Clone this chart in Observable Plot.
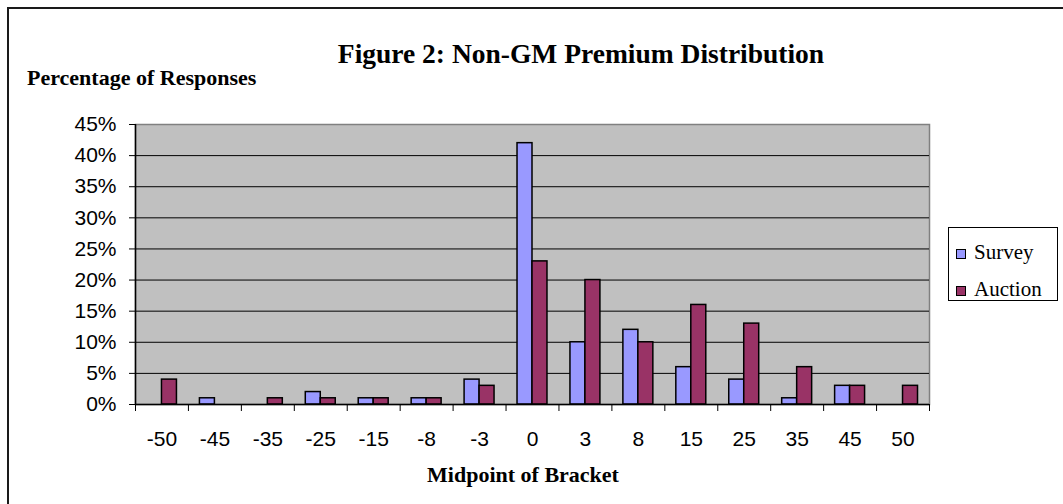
<!DOCTYPE html>
<html>
<head>
<meta charset="utf-8">
<script src="https://cdn.jsdelivr.net/npm/d3@7"></script>
<script src="https://cdn.jsdelivr.net/npm/@observablehq/plot@0.6"></script>
<style>
  html, body { margin: 0; padding: 0; background: #fff; overflow: hidden; }
  #wrap { position: relative; width: 1063px; height: 504px; overflow: hidden; }
  #border { position: absolute; left: 7px; top: 7px; width: 1100px; height: 600px; border: 2px solid #1a1a1a; box-sizing: border-box; }
  .serif { font-family: "Liberation Serif", "Times New Roman", serif; font-weight: bold; color: #000; position: absolute; white-space: nowrap; }
  #title { font-size: 27.5px; left: 0; width: 1162px; text-align: center; top: 38px; }
  #ylab { font-size: 22px; left: 27px; top: 65px; }
  #xlab { font-size: 22px; left: 0; width: 1046px; text-align: center; top: 462px; }
  #chart { position: absolute; left: 0; top: 0; }
  #legend { position: absolute; left: 948px; top: 227px; width: 110px; height: 74px; border: 1px solid #000; box-sizing: border-box; background: #fff;
            font-family: "Liberation Serif", "Times New Roman", serif; font-size: 21px; color: #000; }
  .item { position: absolute; left: 7px; height: 24px; line-height: 24px; }
  .sw { display: inline-block; width: 10px; height: 10px; border: 1px solid #000; box-sizing: border-box; margin-right: 8px; vertical-align: 0px; }
</style>
</head>
<body>
<div id="wrap">
  <div id="border"></div>
  <div id="chart"></div>
  <div id="title" class="serif">Figure 2: Non-GM Premium Distribution</div>
  <div id="ylab" class="serif">Percentage of Responses</div>
  <div id="xlab" class="serif">Midpoint of Bracket</div>
  <div id="legend"></div>
</div>
<script>
// Data (percent of responses)
const brackets = ["-50", "-45", "-35", "-25", "-15", "-8", "-3", "0", "3", "8", "15", "25", "35", "45", "50"];
const survey   = [0, 1, 0, 2, 1, 1, 4, 42, 10, 12, 6, 4, 1, 3, 0];
const auction  = [4, 0, 1, 1, 1, 1, 3, 23, 20, 10, 16, 13, 6, 3, 3];
const seriesNames = ["Survey", "Auction"];
const seriesColors = ["#9999FF", "#993366"];
const yTicks = [0, 5, 10, 15, 20, 25, 30, 35, 40, 45];

const barW = 0.283; // fraction of a bracket slot occupied by one bar
const rows = [];
brackets.forEach((b, i) => {
  if (survey[i] > 0) rows.push({i, series: "Survey", v: survey[i] / 100, x1: i + 0.5 - barW, x2: i + 0.5});
  if (auction[i] > 0) rows.push({i, series: "Auction", v: auction[i] / 100, x1: i + 0.5, x2: i + 0.5 + barW});
});

const chart = Plot.plot({
  width: 1063,
  height: 504,
  marginLeft: 135,
  marginRight: 134,
  marginTop: 124,
  marginBottom: 100,
  style: {fontFamily: "'Liberation Sans', Arial, sans-serif", fontSize: "21px", color: "#000", background: "transparent"},
  x: {domain: [0, brackets.length], axis: null},
  y: {domain: [0, 0.45], axis: null},
  color: {domain: seriesNames, range: seriesColors},
  marks: [
    Plot.frame({fill: "#C0C0C0", stroke: "#808080", strokeWidth: 1.5}),
    Plot.ruleY(yTicks.slice(1, -1).map(d => d / 100), {stroke: "#000", strokeWidth: 1}),
    Plot.rectY(rows, {x1: "x1", x2: "x2", y1: 0, y2: "v", fill: "series", stroke: "#000", strokeWidth: 1.5}),
    Plot.axisY({ticks: yTicks.map(d => d / 100), tickFormat: d => Math.round(d * 100) + "%", tickSize: 6, tickPadding: 13, fontSize: 21, stroke: "#000", strokeWidth: 1, label: null}),
    Plot.axisX({ticks: d3.range(brackets.length + 1), tickFormat: () => "", tickSize: 7, stroke: "#000", strokeWidth: 1, label: null}),
    Plot.axisX({ticks: brackets.map((_, i) => i + 0.5), tickFormat: d => brackets[Math.round(d - 0.5)], tickSize: 0, tickPadding: 27, fontSize: 21, label: null}),
    Plot.ruleY([0], {stroke: "#000", strokeWidth: 1.5}),
    Plot.ruleX([0], {stroke: "#000", strokeWidth: 1.5})
  ]
});
document.getElementById("chart").appendChild(chart);

const legend = document.getElementById("legend");
seriesNames.forEach((name, k) => {
  const it = document.createElement("div");
  it.className = "item";
  it.style.top = (k === 0 ? 12 : 49) + "px";
  const sw = document.createElement("span");
  sw.className = "sw";
  sw.style.background = seriesColors[k];
  it.appendChild(sw);
  it.appendChild(document.createTextNode(name));
  legend.appendChild(it);
});
</script>
</body>
</html>
